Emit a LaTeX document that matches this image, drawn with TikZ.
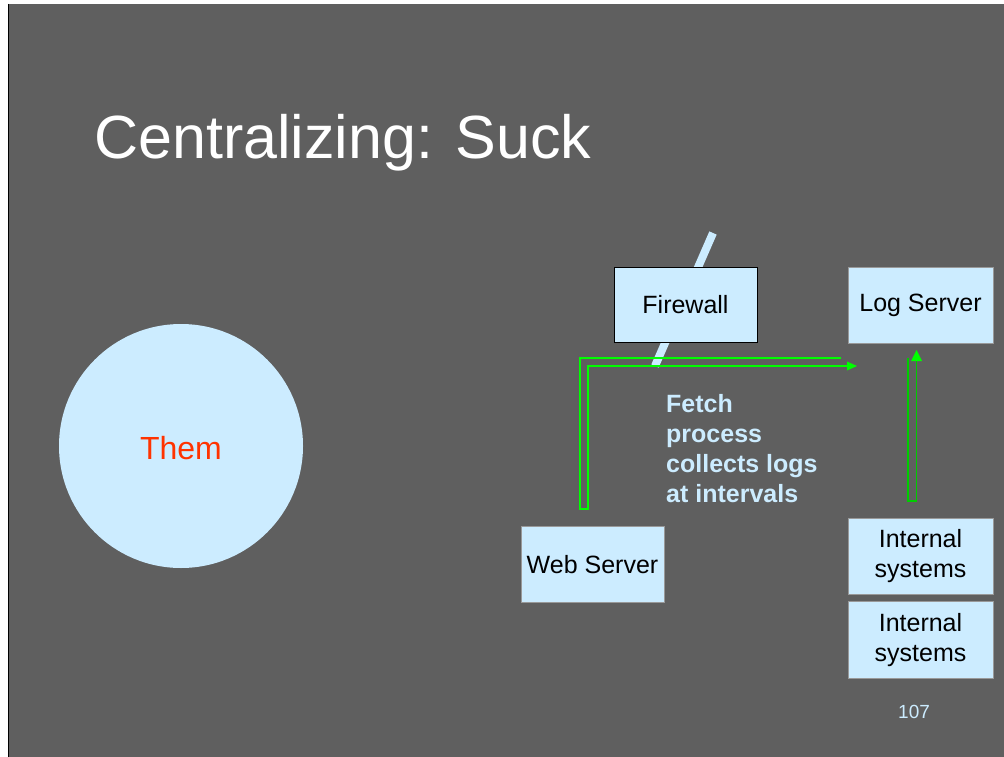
\documentclass[tikz,border=0pt]{standalone}
\usepackage{fontspec}
\setmainfont{Liberation Sans}
\definecolor{slidebg}{HTML}{5F5F5F}
\definecolor{lightblue}{HTML}{CCECFF}
\definecolor{themred}{HTML}{FF3300}
\definecolor{arrowgreen}{HTML}{00FF00}
\definecolor{arrowgreendk}{HTML}{00CC00}
\tikzset{
  boxnode/.style={rectangle, fill=lightblue, draw=gray!80, line width=1pt, inner sep=0pt, align=center,
    font=\fontsize{25}{30}\selectfont, text=black},
  greenline/.style={draw=arrowgreen, line width=1.3pt, line join=miter},
  greenhead/.style={fill=arrowgreen, draw=none},
}
\begin{document}
\begin{tikzpicture}[x=1pt,y=-1pt]
\useasboundingbox (0,0) rectangle (1004,757);
\fill[white] (0,0) rectangle (1004,757);
\fill[slidebg] (8.5,4) rectangle (1004,757);
\draw[black, line width=1pt] (8,4) -- (8,757);

% title
\node[anchor=base west, inner sep=0pt, text=white, font=\fontsize{61}{70}\selectfont] (title) at (94,158) {Centralizing: Suck};

% circle
\node[circle, fill=lightblue, minimum size=244pt, inner sep=0pt] (them) at (181,446) {};
\node[anchor=base, inner sep=0pt, text=themred, font=\fontsize{32}{36}\selectfont] (themlbl) at (181,459) {Them};

% firewall slash
\coordinate (fwtop) at (713,233);
\coordinate (fwbot) at (655,366);
\draw[lightblue, line width=8pt] (fwbot) -- (fwtop);

% boxes
\node[boxnode, draw=black, minimum width=143pt, minimum height=75pt] (fw) at (685.5,305) {Firewall};
\node[boxnode, minimum width=145pt, minimum height=76pt] (log) at (920.5,305) {Log Server};
\node[boxnode, minimum width=143pt, minimum height=76pt] (web) at (592.5,564.5) {Web Server};
\node[boxnode, minimum width=145pt, minimum height=76pt] (int1) at (920.5,556) {Internal\\systems};
\node[boxnode, minimum width=145pt, minimum height=77pt] (int2) at (920.5,640) {Internal\\systems};

% web -> log arrow
\coordinate (wa1) at (841,358);
\coordinate (wa2) at (580,358);
\coordinate (wa3) at (580,509);
\coordinate (wa4) at (588,509);
\coordinate (wa5) at (588,366);
\coordinate (wa6) at (847,366);
\draw[greenline] (wa1) -- (wa2) -- (wa3) -- (wa4) -- (wa5) -- (wa6);
\fill[greenhead] (847,361.5) -- (857,366) -- (847,370.5) -- cycle;

% internal -> log arrow
\coordinate (ia1) at (908,358);
\coordinate (ia2) at (908,501);
\coordinate (ia3) at (916.5,501);
\coordinate (ia4) at (916.5,361);
\draw[greenline, draw=arrowgreendk] (ia1) -- (ia2) -- (ia3) -- (ia4);
\fill[greenhead] (911,361) -- (916.5,350) -- (922,361) -- cycle;

% fetch text
\node[anchor=base west, inner sep=0pt, align=left, text=lightblue, font=\bfseries\fontsize{25}{30}\selectfont] (fetch) at (666,502) {Fetch\\process\\collects logs\\at intervals};

% page number
\node[anchor=base west, inner sep=0pt, text=lightblue, font=\fontsize{19}{22}\selectfont] (pagenum) at (898,718) {107};
\end{tikzpicture}
\end{document}
